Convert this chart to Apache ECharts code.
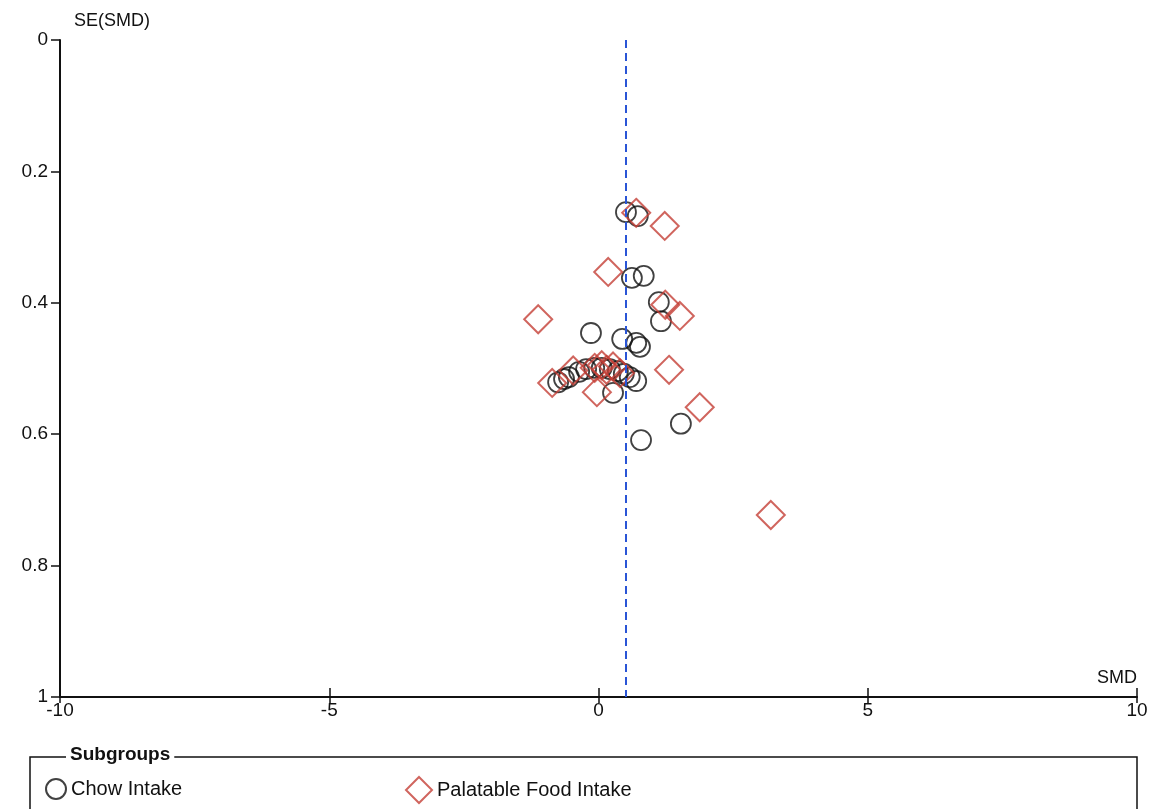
<!DOCTYPE html>
<html><head><meta charset="utf-8">
<script src="https://cdn.jsdelivr.net/npm/echarts@6/dist/echarts.min.js"></script>
<style>html,body{margin:0;padding:0;background:#fff}#c{width:1159px;height:809px}</style>
</head><body><div id="c"></div>
<script>
// Chow Intake: [SMD, SE(SMD)]
const chowSMD = [0.51,0.73,0.62,0.84,1.12,1.16,-0.14,0.44,0.70,0.77,0.27,0.79,1.53,
  -0.75,-0.64,-0.55,-0.36,-0.23,-0.08,0.06,0.21,0.36,0.47,0.58,0.70];
const chowSE  = [0.262,0.268,0.362,0.359,0.399,0.428,0.446,0.455,0.461,0.467,0.537,0.609,0.584,
  0.521,0.516,0.513,0.505,0.501,0.499,0.499,0.501,0.504,0.508,0.513,0.519];
// Palatable Food Intake
const palSMD = [0.70,1.23,0.18,-1.12,1.24,1.51,1.31,1.88,3.20,-0.03,
  -0.86,-0.47,-0.07,0.06,0.15,0.27,0.40];
const palSE  = [0.263,0.283,0.353,0.425,0.403,0.420,0.502,0.559,0.723,0.536,
  0.522,0.503,0.499,0.495,0.502,0.497,0.507];
const pooledSMD = 0.5;
const xTicks = [-10,-5,0,5,10];
const yTicks = [0,0.2,0.4,0.6,0.8,1];

const chowData = chowSMD.map((v,i)=>[v,chowSE[i]]);
const palData = palSMD.map((v,i)=>[v,palSE[i]]);
const FONT = 'Liberation Sans';
const chart = echarts.init(document.getElementById('c'));
chart.setOption({
  animation:false,
  textStyle:{fontFamily:FONT},
  grid:{left:60,right:22,top:40,bottom:112},
  xAxis:[{
    type:'value',min:-10,max:10,interval:5,position:'bottom',
    axisLine:{onZero:false,lineStyle:{color:'#111',width:2}},
    axisTick:{length:6,lineStyle:{color:'#111',width:1.5}},
    axisLabel:{color:'#111',fontSize:19,margin:4,formatter:v=>String(v)},
    splitLine:{show:false},
    name:'SMD',nameLocation:'end',nameGap:0,
    nameTextStyle:{color:'#111',fontSize:18,align:'right',verticalAlign:'bottom',padding:[0,0,10,0]}
  },{
    type:'value',min:-10,max:10,interval:5,position:'bottom',
    axisLine:{show:false,onZero:false},
    axisTick:{inside:true,length:9,lineStyle:{color:'#111',width:1.5}},
    axisLabel:{show:false},splitLine:{show:false}
  }],
  yAxis:{
    type:'value',min:0,max:1,interval:0.2,inverse:true,position:'left',
    axisLine:{onZero:false,lineStyle:{color:'#111',width:2}},
    axisTick:{length:9,lineStyle:{color:'#111',width:1.5}},
    axisLabel:{color:'#111',fontSize:19,margin:12,formatter:v=>String(Math.round(v*10)/10)},
    splitLine:{show:false},
    name:'SE(SMD)',nameLocation:'start',nameGap:10,
    nameTextStyle:{color:'#111',fontSize:18,align:'left',padding:[0,0,0,14]}
  },
  legend:[{
    left:40,top:773,itemWidth:20,itemHeight:20,
    textStyle:{fontSize:20,color:'#111',fontFamily:FONT},
    data:['Chow Intake']
  },{
    left:400,top:771,itemWidth:26,itemHeight:26,
    textStyle:{fontSize:20,color:'#111',fontFamily:FONT},
    data:['Palatable Food Intake']
  }],
  graphic:[
    {type:'rect',shape:{x:30,y:757,width:1107,height:80},style:{fill:'none',stroke:'#111',lineWidth:1.5},z:0},
    {type:'text',left:66,top:745,style:{text:'Subgroups',font:'bold 19px '+FONT,fill:'#111',backgroundColor:'#fff',padding:[0,4]},z:10}
  ],
  series:[{
    name:'Chow Intake',type:'scatter',symbol:'circle',symbolSize:20,
    itemStyle:{color:'rgba(0,0,0,0)',borderColor:'#111',borderWidth:1.8},
    data:chowData,
    markLine:{silent:true,symbol:'none',label:{show:false},
      lineStyle:{color:'#2a55d6',type:[8,5],width:2},
      data:[[{coord:[pooledSMD,0]},{coord:[pooledSMD,1]}]]}
  },{
    name:'Palatable Food Intake',type:'scatter',symbol:'diamond',symbolSize:[28,28],
    itemStyle:{color:'rgba(0,0,0,0)',borderColor:'#c43e36',borderWidth:2},
    data:palData
  }]
});
</script></body></html>
